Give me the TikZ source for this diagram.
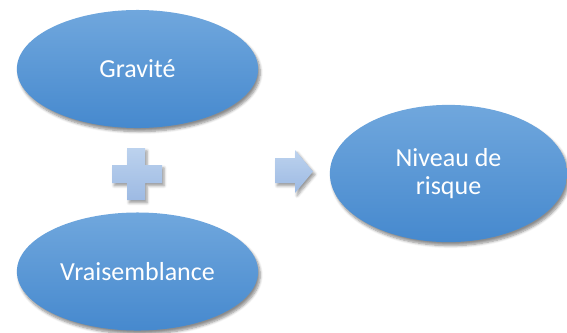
\documentclass[tikz,border=0pt]{standalone}
\usepackage{fontspec}
\setmainfont{Carlito}
\usepackage{xcolor}
\usepackage{tikz}
\usetikzlibrary{shapes.geometric, shadows.blur, positioning}

\definecolor{ovaltop}{HTML}{70A7DD}
\definecolor{ovalbottom}{HTML}{4689CE}
\definecolor{signtop}{HTML}{BCD2EE}
\definecolor{signbottom}{HTML}{9DBAE3}

\begin{document}
\begin{tikzpicture}[
    x=0.025cm, y=-0.025cm,
    oval/.style={ellipse, top color=ovaltop, bottom color=ovalbottom, text=white, align=center, font=\fontsize{18.5}{19.5}\selectfont, inner sep=0pt, minimum width=6.03cm, minimum height=2.95cm, blur shadow={shadow xshift=1.5pt, shadow yshift=-2.5pt, shadow opacity=45, shadow blur steps=6}},
    sign/.style={top color=signtop, bottom color=signbottom, blur shadow={shadow xshift=1.5pt, shadow yshift=-2pt, shadow opacity=40, shadow blur steps=5}}
]
\useasboundingbox (0,0) rectangle (567,332);

% Inputs
\node[oval] (gravite) at (137.5,69) {Gravité};
\node[oval] (vraisemblance) at (137.5,271.5) {Vraisemblance};

% Result
\node[oval, minimum width=5.93cm, minimum height=3.43cm] (niveau) at (448.5,173.5) {Niveau de\\risque};

% Plus sign
\path[sign] (127,148) -- (145,148) -- (145,165) -- (162,165) -- (162,183) -- (145,183) -- (145,200) -- (127,200) -- (127,183) -- (112,183) -- (112,165) -- (127,165) -- cycle;

% Block arrow
\path[sign] (275,158) -- (295,158) -- (295,150) -- (313,171.5) -- (295,193) -- (295,183) -- (275,183) -- cycle;

\end{tikzpicture}
\end{document}
